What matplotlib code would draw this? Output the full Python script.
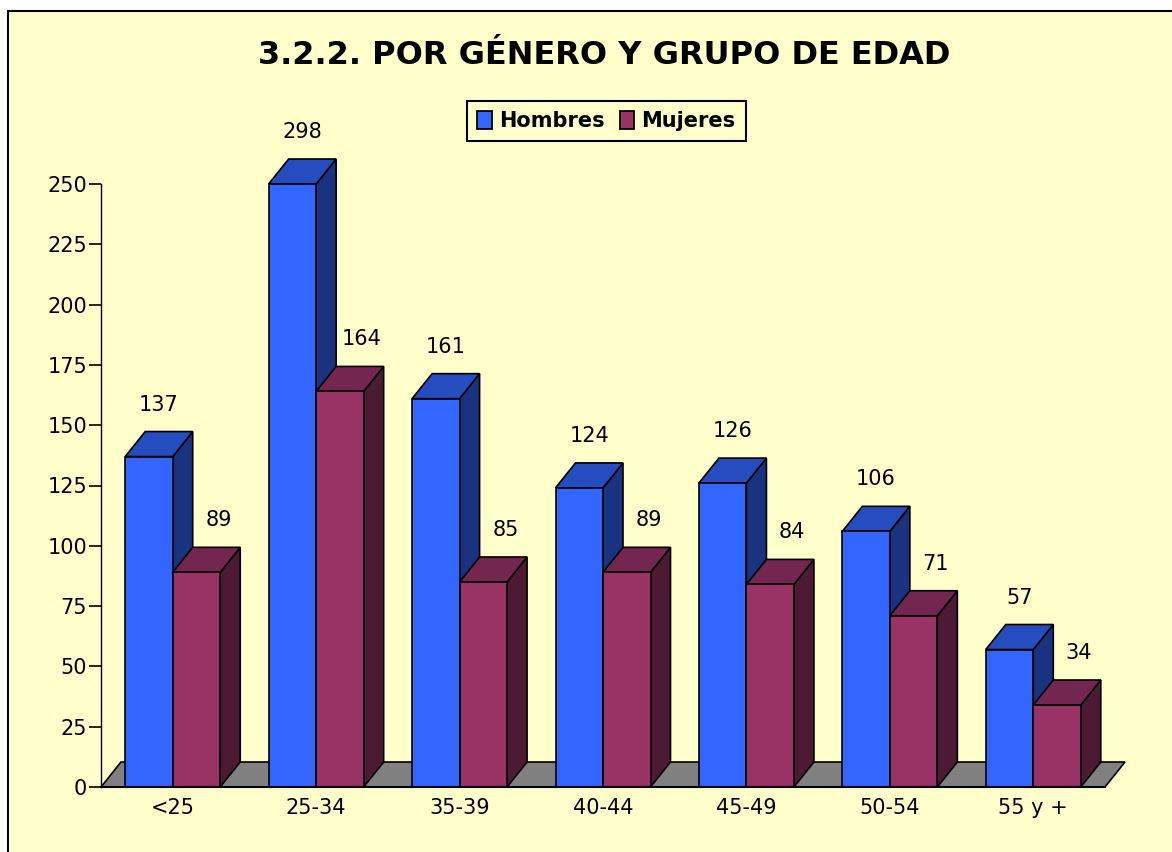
import matplotlib
matplotlib.use('Agg')
import matplotlib.pyplot as plt
from matplotlib.patches import Polygon, Rectangle

categories = ['<25', '25-34', '35-39', '40-44', '45-49', '50-54', '55 y +']
hombres = [137, 298, 161, 124, 126, 106, 57]
mujeres = [89, 164, 85, 89, 84, 71, 34]
yticks = list(range(0, 251, 25))

W, H = 1172, 852
plt.rcParams['font.family'] = ['DejaVu Sans']

fig = plt.figure(figsize=(W / 100, H / 100), dpi=100, facecolor='white')

# fondo amarillo con el borde negro
fig.patches.append(Rectangle((8 / W, -0.01), (W + 10 - 8) / W, (H - 11) / H + 0.01, transform=fig.transFigure,
                             fc='#FFFFCC', ec='black', lw=1.5, figure=fig, zorder=-1))

left, right, top, bottom = 101, 1105, 184, 787
ax = fig.add_axes([left / W, 1 - bottom / H, (right - left) / W, (bottom - top) / H])
ax.patch.set_alpha(0)
ax.set_xlim(0, 7)
ax.set_ylim(0, 250)

px_x = 7 / (right - left)
px_y = 250 / (bottom - top)
dx = 20 * px_x
dy = 25 * px_y
bar_w = 47.5 * px_x
EDGE = 'black'


def bar3d(x, v, front, top_c, side, label_dx):
    h = min(v, 250)
    ax.add_patch(Polygon([(x + bar_w, 0), (x + bar_w + dx, dy), (x + bar_w + dx, h + dy), (x + bar_w, h)],
                         fc=side, ec=EDGE, lw=1.2, clip_on=False, zorder=3))
    ax.add_patch(Polygon([(x, h), (x + dx, h + dy), (x + bar_w + dx, h + dy), (x + bar_w, h)],
                         fc=top_c, ec=EDGE, lw=1.2, clip_on=False, zorder=3))
    ax.bar(x, h, bar_w, align='edge', color=front, edgecolor=EDGE, lw=1.2, zorder=3, clip_on=False)
    ax.text(x + bar_w / 2 + label_dx * px_x, h + 42 * px_y, str(v), ha='center', va='bottom',
            fontsize=15, color='black', zorder=5)


# suelo gris
ax.add_patch(Polygon([(0, 0), (7, 0), (7 + dx, dy), (dx, dy)], fc='#808080', ec=EDGE, lw=1.2, clip_on=False, zorder=1))

offset = 0.5 - bar_w
for i in range(len(categories)):
    bar3d(i + offset, hombres[i], '#3366FF', '#264DBF', '#1A3380', 10)
    bar3d(i + 0.5, mujeres[i], '#993366', '#732650', '#4D1A33', 22)

for s in ['top', 'right']:
    ax.spines[s].set_visible(False)
ax.spines['left'].set_linewidth(1.0)
ax.spines['bottom'].set_linewidth(1.5)
ax.spines['bottom'].set_zorder(6)
ax.set_yticks(yticks)
ax.set_xticks([i + 0.5 for i in range(7)])
ax.set_xticklabels(categories)
ax.tick_params(axis='y', labelsize=15, length=9, width=1.2, pad=1, direction='out')
ax.tick_params(axis='x', labelsize=15, length=0, pad=8)

fig.text(604 / W, 1 - 55 / H, '3.2.2. POR GÉNERO Y GRUPO DE EDAD', ha='center', va='center',
         fontsize=23, fontweight='bold', color='black')

# leyenda
handles = [Rectangle((0, 0), 1, 1, fc='#3366FF', ec='black', lw=1.3),
           Rectangle((0, 0), 1, 1, fc='#993366', ec='black', lw=1.3)]
leg = fig.legend(handles, ['Hombres', 'Mujeres'], ncols=2, loc='center', bbox_to_anchor=(606.5 / W, 1 - 121 / H),
                 fancybox=False, framealpha=1, facecolor='#FFFFCC', edgecolor='black',
                 prop={'size': 15, 'weight': 'bold'}, handlelength=0.7, handleheight=1.0, handletextpad=0.35,
                 columnspacing=0.7, borderpad=0.48, borderaxespad=0)
leg.get_frame().set_linewidth(1.5)

fig.savefig('out.png', dpi=100, facecolor='white')
